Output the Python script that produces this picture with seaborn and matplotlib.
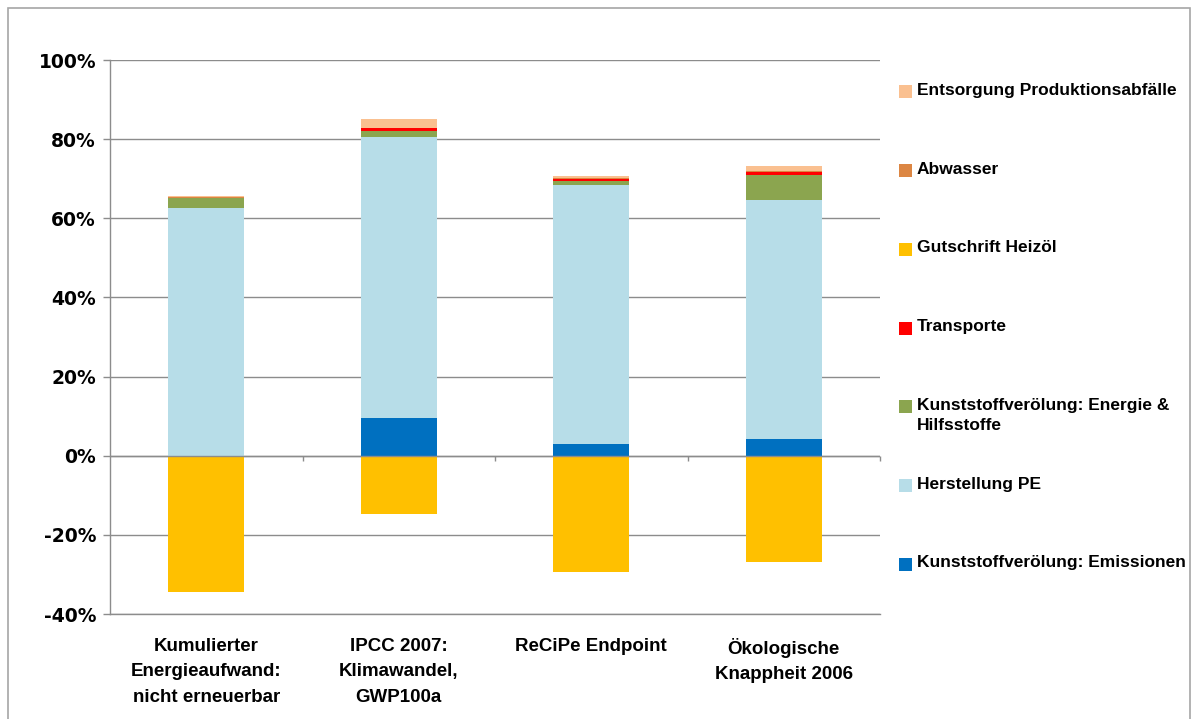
import matplotlib
matplotlib.use("Agg")
import matplotlib.pyplot as plt
import numpy as np
import seaborn as sns
from matplotlib.patches import Rectangle

# categories (x axis)
categories = [
    "Kumulierter\nEnergieaufwand:\nnicht erneuerbar",
    "IPCC 2007:\nKlimawandel,\nGWP100a",
    "ReCiPe Endpoint",
    "Ökologische\nKnappheit 2006",
]

# series values in percent
emissionen = [0.0, 9.5, 2.9, 4.3]
herstellung_pe = [62.7, 71.0, 65.4, 60.3]
energie_hilfsstoffe = [2.4, 1.5, 1.1, 6.3]
transporte = [0.1, 0.8, 0.6, 0.9]
abwasser = [0.3, 0.1, 0.1, 0.1]
entsorgung = [0.2, 2.2, 0.6, 1.3]
gutschrift_heizoel = [-34.5, -14.7, -29.5, -26.8]

y_ticks = [-40, -20, 0, 20, 40, 60, 80, 100]
y_ticklabels = [f"{v}%" for v in y_ticks]

# stacking order from the zero line upwards, plus legend labels/colours
positive = [
    ("Kunststoffverölung: Emissionen", emissionen, "#0070C0"),
    ("Herstellung PE", herstellung_pe, "#B7DDE8"),
    ("Kunststoffverölung: Energie &\nHilfsstoffe", energie_hilfsstoffe, "#8BA54F"),
    ("Transporte", transporte, "#FF0000"),
    ("Abwasser", abwasser, "#DC8643"),
    ("Entsorgung Produktionsabfälle", entsorgung, "#FAC090"),
]
negative = ("Gutschrift Heizöl", gutschrift_heizoel, "#FFC000")

sns.set_theme(style="white")
plt.rcParams["font.family"] = ["Liberation Sans", "DejaVu Sans"]
plt.rcParams["font.weight"] = "bold"
plt.rcParams["text.color"] = "black"
plt.rcParams["xtick.color"] = "black"
plt.rcParams["ytick.color"] = "black"

fig = plt.figure(figsize=(11.93, 7.19), dpi=100)
ax = fig.add_axes([110 / 1193, 1 - 614 / 719, 770 / 1193, 554 / 719])

x = np.arange(len(categories))
bar_w = 0.395
bottom = np.zeros(len(categories))
for label, vals, color in positive:
    ax.bar(x, vals, bar_w, bottom=bottom, color=color, edgecolor="none", zorder=3)
    bottom += np.array(vals)
ax.bar(x, negative[1], bar_w, color=negative[2], edgecolor="none", zorder=3)

ax.set_xlim(-0.5, len(categories) - 0.5)
ax.set_ylim(-40, 100)
ax.set_yticks(y_ticks)
ax.set_yticklabels(y_ticklabels, fontsize=13.5, fontweight="bold", family="DejaVu Sans")
ax.yaxis.grid(True, color="#8C8C8C", linewidth=1.0, zorder=0)
ax.set_xticks(x)
ax.set_xticklabels(categories, fontsize=13.5, fontweight="bold", linespacing=1.68)
ax.tick_params(axis="x", length=0, pad=17, labelcolor="black")
ax.tick_params(axis="y", length=5, width=1, color="#8C8C8C", pad=5, left=True, labelcolor="black")

for side in ["top", "right"]:
    ax.spines[side].set_visible(False)
for side in ["left", "bottom"]:
    ax.spines[side].set_color("#8C8C8C")
    ax.spines[side].set_linewidth(1.0)

# category axis at the zero line with separator ticks
ax.axhline(0, color="#8C8C8C", linewidth=1.0, zorder=4)
ax.vlines(x + 0.5, -1.3, 0, color="#8C8C8C", linewidth=1.0, zorder=4, clip_on=False)

# legend, top entry first
legend_items = [positive[5], positive[4], negative, positive[3], positive[2], positive[1], positive[0]]
y0 = 91.7
step = 78.8
for i, (label, _, color) in enumerate(legend_items):
    yc = y0 + i * step
    fig.patches.append(Rectangle((899 / 1193, 1 - (yc + 6.5) / 719), 13 / 1193, 13 / 719,
                                 transform=fig.transFigure, facecolor=color, edgecolor="none"))
    fig.text(917 / 1193, 1 - (yc - 9) / 719, label, fontsize=12.5, fontweight="bold",
             color="black", va="top", ha="left", linespacing=1.45)

# outer frame
fig.patches.append(Rectangle((8 / 1193, -0.01), 1182 / 1193, 1 - 8 / 719 + 0.01,
                             transform=fig.transFigure, facecolor="none",
                             edgecolor="#A6A6A6", linewidth=1.2))

fig.savefig("out.png", dpi=100)
